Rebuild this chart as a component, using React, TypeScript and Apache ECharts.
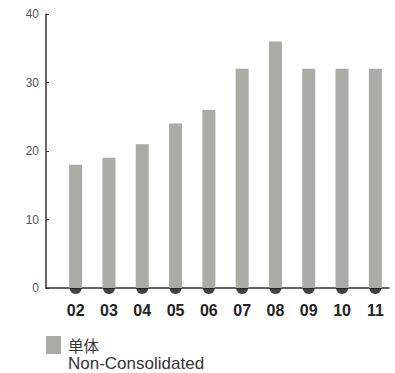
import React, { useEffect, useRef } from "react";
import * as echarts from "echarts";

const categories = ["02", "03", "04", "05", "06", "07", "08", "09", "10", "11"];
const values = [18, 19, 21, 24, 26, 32, 36, 32, 32, 32];
const baseDots = [0, 0, 0, 0, 0, 0, 0, 0, 0, 0];
const seriesName = "单体";
const seriesNameEn = "Non-Consolidated";

export default function App() {
  const ref = useRef<HTMLDivElement>(null);
  useEffect(() => {
    if (!ref.current) return;
    const chart = echarts.init(ref.current, null, { renderer: "svg" });
    const font = "'Liberation Sans', Arial, Helvetica, sans-serif";
    chart.setOption({
      animation: false,
      grid: [
        { left: 59, right: 3, top: 14, bottom: 85 },
        { left: 46, right: 6, top: 14, bottom: 85 },
      ],
      legend: {
        data: [seriesName],
        left: 46,
        top: 336,
        itemWidth: 15,
        itemHeight: 18,
        itemGap: 7,
        icon: "rect",
        textStyle: { fontFamily: "'Noto Sans CJK JP', sans-serif", fontSize: 15.5, color: "#333", padding: [0, 0, 0, 2] },
        padding: 0,
      },
      graphic: [
        {
          type: "text",
          left: 68,
          top: 355,
          style: { text: seriesNameEn, font: "17px " + font, fill: "#333" },
        },
      ],
      xAxis: [
        {
          type: "category",
          gridIndex: 0,
          data: categories,
          axisLine: { show: false },
          axisTick: { show: false },
          axisLabel: {
            margin: 14,
            color: "#222",
            fontSize: 16,
            fontWeight: "bold",
            fontFamily: font,
          },
        },
        {
          type: "category",
          gridIndex: 1,
          data: categories,
          axisLine: { show: true, lineStyle: { color: "#333", width: 1.5 } },
          axisTick: { show: false },
          axisLabel: { show: false },
        },
      ],
      yAxis: [
        {
          type: "value",
          gridIndex: 0,
          min: 0,
          max: 40,
          interval: 10,
          show: false,
          splitLine: { show: false },
        },
        {
          type: "value",
          gridIndex: 1,
          min: 0,
          max: 40,
          interval: 10,
          axisLine: { show: true, lineStyle: { color: "#333", width: 1.5 } },
          axisTick: { show: true, inside: true, length: 3, lineStyle: { color: "#333" } },
          splitLine: { show: false },
          axisLabel: { color: "#555", fontSize: 12, fontFamily: font, margin: 7 },
        },
      ],
      series: [
        {
          name: seriesName,
          type: "bar",
          xAxisIndex: 0,
          yAxisIndex: 0,
          data: values,
          barWidth: 13,
          itemStyle: { color: "#a9aba5" },
          z: 3,
        },
        {
          name: "dot",
          type: "scatter",
          xAxisIndex: 0,
          yAxisIndex: 0,
          data: baseDots,
          symbol: "circle",
          symbolSize: 12,
          itemStyle: { color: "#111" },
          z: 1,
          silent: true,
        },
      ],
    });
    return () => chart.dispose();
  }, []);
  return <div ref={ref} style={{ width: 395, height: 373, position: "absolute", left: 0, top: 0 }} />;
}
